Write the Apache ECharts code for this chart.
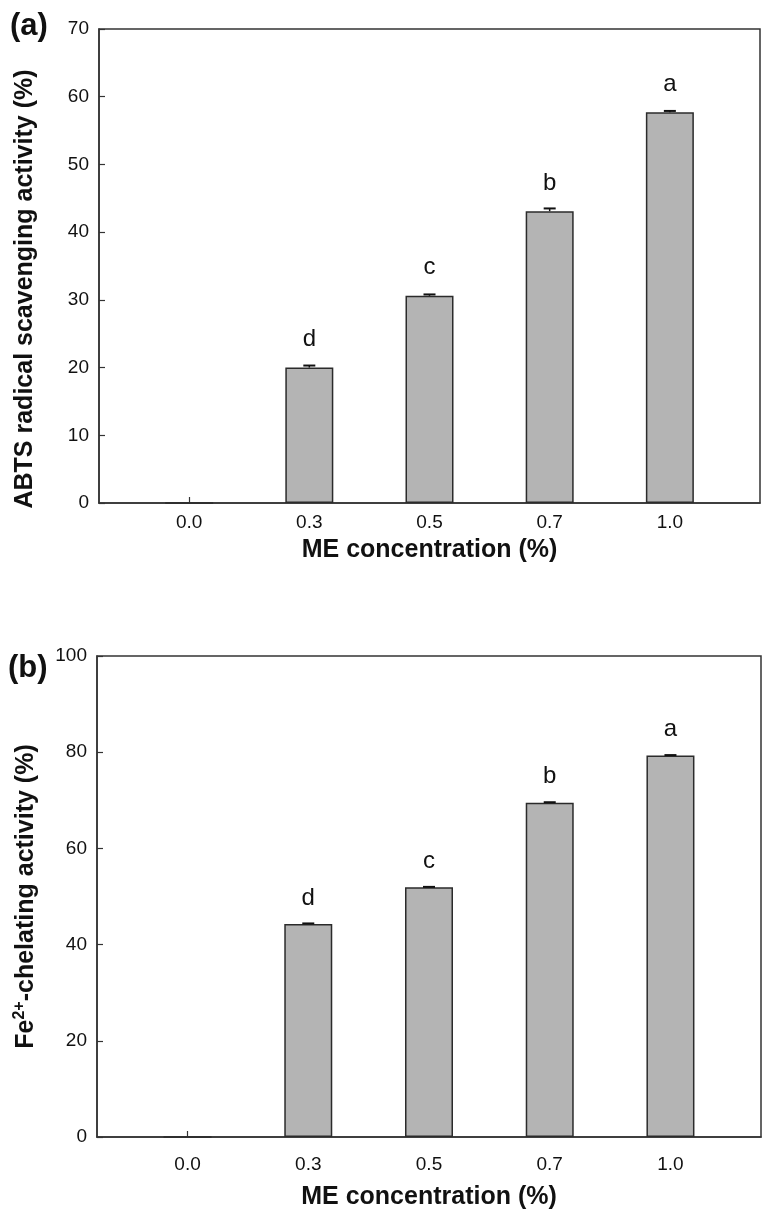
<!DOCTYPE html>
<html>
<head>
<meta charset="utf-8">
<script src="https://cdn.jsdelivr.net/npm/echarts@6/dist/echarts.min.js"></script>
<style>
html,body{margin:0;padding:0;background:#fff;}
#chart{width:774px;height:1216px;}
</style>
</head>
<body>
<div id="chart"></div>
<script>
// ---- data ----
var categories = ['0.0', '0.3', '0.5', '0.7', '1.0'];
var abtsValues = [0, 20.0, 30.6, 43.1, 57.7];
var abtsErrors = [0, 0.3, 0.2, 0.4, 0.2];
var abtsLetters = ['', 'd', 'c', 'b', 'a'];
var feValues = [0, 44.3, 51.9, 69.5, 79.3];
var feErrors = [0, 0.1, 0.1, 0.1, 0.1];
var feLetters = ['', 'd', 'c', 'b', 'a'];
var yTicksA = [0, 10, 20, 30, 40, 50, 60, 70];
var yTicksB = [0, 20, 40, 60, 80, 100];

// ---- styles ----
var FONT = "'Liberation Sans', Arial, sans-serif";
var AX = '#333';
var catIdx = categories.map(function (c, i) { return i; });

function xAxisCfg(gridIndex, nameGap, labelMargin) {
  return {
    type: 'value', gridIndex: gridIndex, min: -0.75, max: 4.75,
    name: 'ME concentration (%)', nameLocation: 'middle', nameGap: nameGap,
    nameTextStyle: { fontFamily: FONT, fontSize: 25, fontWeight: 'bold', color: '#111' },
    axisLine: { show: true, onZero: false, lineStyle: { color: AX, width: 1.5 } },
    axisTick: { show: true, inside: true, length: 6, customValues: catIdx, lineStyle: { color: AX, width: 1.2 } },
    axisLabel: { customValues: catIdx, margin: labelMargin, fontFamily: FONT, fontSize: 19, color: '#111',
      formatter: function (v) { return categories[Math.round(v)]; } },
    splitLine: { show: false }
  };
}
function yAxisCfg(gridIndex, ticks, name, nameGap, padding, rich) {
  var o = {
    type: 'value', gridIndex: gridIndex, min: ticks[0], max: ticks[ticks.length - 1],
    interval: ticks[1] - ticks[0],
    name: name, nameLocation: 'middle', nameRotate: 90, nameGap: nameGap,
    nameTextStyle: { fontFamily: FONT, fontSize: 25, fontWeight: 'bold', color: '#111', padding: padding },
    axisLine: { show: true, onZero: false, lineStyle: { color: AX, width: 1.5 } },
    axisTick: { show: true, inside: true, length: 6, customValues: ticks, lineStyle: { color: AX, width: 1.2 } },
    axisLabel: { margin: 10, fontFamily: FONT, fontSize: 19, color: '#111', customValues: ticks },
    splitLine: { show: false }
  };
  if (rich) o.nameTextStyle.rich = rich;
  return o;
}
function barSeries(idx, values, letters, labelDist) {
  return {
    type: 'bar', xAxisIndex: idx, yAxisIndex: idx, barWidth: 48, z: 3,
    data: values.map(function (v, i) { return [i, v]; }),
    itemStyle: { color: '#b4b4b4', borderColor: '#2b2b2b', borderWidth: 1.5 },
    label: { show: true, position: 'top', distance: labelDist, fontFamily: FONT, fontSize: 24, color: '#111',
      formatter: function (p) { return letters[p.dataIndex]; } }
  };
}
function errSeries(idx, values, errors) {
  return {
    type: 'custom', xAxisIndex: idx, yAxisIndex: idx, z: 4, silent: true,
    data: values.map(function (v, i) { return [i, v, errors[i]]; }),
    renderItem: function (params, api) {
      var x = api.value(0), v = api.value(1), e = api.value(2);
      if (!v) return null;
      var top = api.coord([x, v + e]);
      var base = api.coord([x, v]);
      var hw = 6;
      return {
        type: 'group', children: [
          { type: 'line', shape: { x1: top[0], y1: top[1], x2: base[0], y2: base[1] }, style: { stroke: '#111', lineWidth: 1.5 } },
          { type: 'line', shape: { x1: top[0] - hw, y1: top[1], x2: top[0] + hw, y2: top[1] }, style: { stroke: '#111', lineWidth: 2 } }
        ]
      };
    }
  };
}

var chart = echarts.init(document.getElementById('chart'), null, { renderer: 'canvas' });
chart.setOption({
  backgroundColor: '#fff',
  animation: false,
  title: [
    { text: '(a)', left: 5, top: 6, textStyle: { fontFamily: FONT, fontSize: 31, fontWeight: 'bold', color: '#111' } },
    { text: '(b)', left: 3, top: 648, textStyle: { fontFamily: FONT, fontSize: 31, fontWeight: 'bold', color: '#111' } }
  ],
  grid: [
    { left: 99, top: 29, width: 661, height: 474, show: true, borderColor: AX, borderWidth: 1.5, backgroundColor: 'transparent' },
    { left: 97, top: 656, width: 664, height: 481, show: true, borderColor: AX, borderWidth: 1.5, backgroundColor: 'transparent' }
  ],
  xAxis: [xAxisCfg(0, 35, 10), xAxisCfg(1, 48, 18)],
  yAxis: [
    yAxisCfg(0, yTicksA, 'ABTS radical scavenging activity (%)', 61, [0, 46, 0, 0]),
    yAxisCfg(1, yTicksB, '{n|Fe}{s|2+}{n|-chelating activity (%)}', 57, 0, {
      n: { fontFamily: FONT, fontSize: 25, fontWeight: 'bold', color: '#111', lineHeight: 28 },
      s: { fontFamily: FONT, fontSize: 16, fontWeight: 'bold', color: '#111', verticalAlign: 'top', lineHeight: 28 }
    })
  ],
  series: [
    barSeries(0, abtsValues, abtsLetters, 16),
    errSeries(0, abtsValues, abtsErrors),
    barSeries(1, feValues, feLetters, 14),
    errSeries(1, feValues, feErrors)
  ]
});
</script>
</body>
</html>
